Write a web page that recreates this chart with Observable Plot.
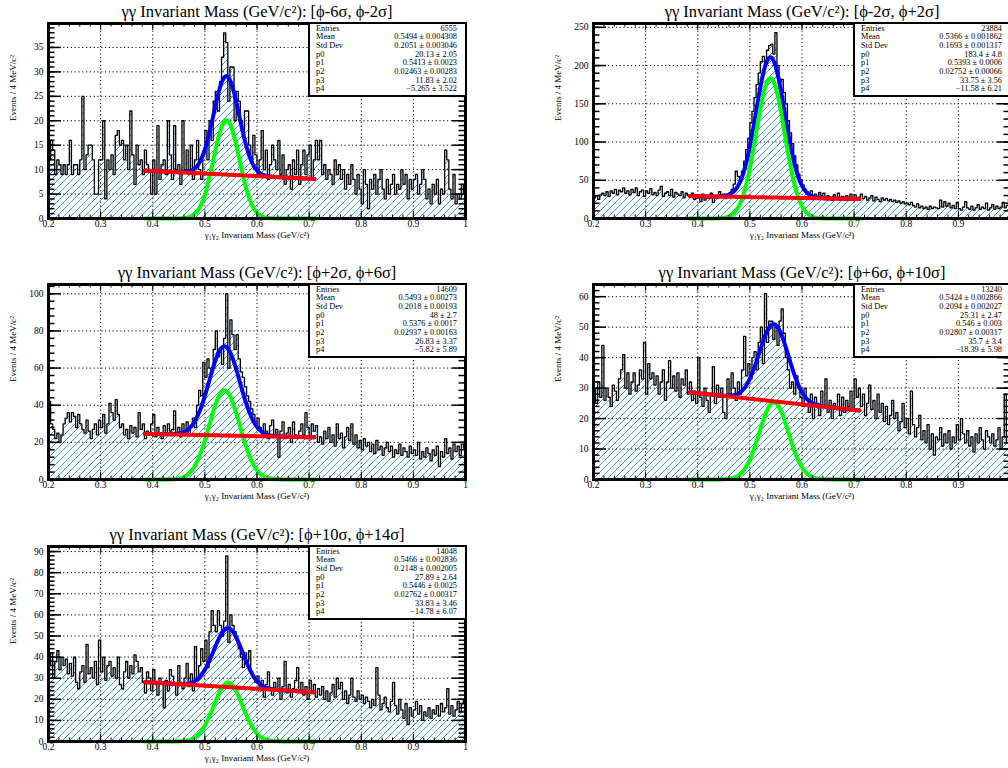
<!DOCTYPE html>
<html><head><meta charset="utf-8">
<script src="https://cdn.jsdelivr.net/npm/d3@7"></script>
<script src="https://cdn.jsdelivr.net/npm/@observablehq/plot@0.6"></script>
<style>
html,body{margin:0;padding:0;background:#fff}
body{width:1008px;height:768px;overflow:hidden;position:relative;font-family:"Liberation Serif",serif}
.panel{position:absolute;width:480px;height:250px}
.stats{position:absolute;left:308px;top:22px;width:159px;height:75px;border:2px solid #000;background:#fff;box-sizing:border-box;overflow:hidden;font-size:8.3px;color:#000}
.stats span{position:absolute;white-space:nowrap;line-height:8px}
</style></head>
<body>
<script>
// ---------------- data ----------------
const binLow = 0.2, binWidth = 0.004, nBins = 200;
const rangeLabels = ["[ϕ-6σ, ϕ-2σ]", "[ϕ-2σ, ϕ+2σ]", "[ϕ+2σ, ϕ+6σ]", "[ϕ+6σ, ϕ+10σ]", "[ϕ+10σ, ϕ+14σ]"];
const counts1 = [12,16,14,9,12, 11,9,11,9,11, 16,9,11,11,9, 12,25,10,13,15, 15,12,5,5,12, 12,20,4,12,10, 13,9,17,18,15, 16,12,15,10,22, 13,7,15,11,12, 9,14,11,10,5, 12,5,19,8,11, 12,9,20,13,8, 19,10,11,7,20, 10,14,9,15,8, 12,16,10,8,13, 18,12,20,16,24, 26,22,28,33,38, 36,24,31,31,20, 26,24,20,17,22, 22,15,12,17,13, 9,12,18,10,14, 8,11,15,12,10, 16,9,13,7,10, 11,6,12,9,14, 7,11,14,9,13, 15,8,12,16,12, 16,9,11,8,10, 9,7,12,9,11, 8,10,6,9,7, 11,8,5,9,6, 3,10,7,2,8, 6,9,5,8,10, 6,4,8,5,7, 9,5,7,6,10, 7,9,4,8,6, 8,9,5,7,10, 8,4,6,3,7, 5,8,3,6,5, 14,12,6,4,9, 3,5,4,7,5];
const counts2 = [27,30,25,31,33, 30,35,29,36,33, 38,31,37,35,40, 33,36,31,38,34, 40,30,35,37,29, 36,33,39,31,34, 30,37,42,29,33, 35,30,38,28,34, 32,30,35,27,33, 30,28,33,25,31, 27,22,32,24,29, 26,33,21,30,27, 35,28,32,26,31, 34,38,45,62,55, 48,62,75,90,105, 125,140,158,175,190, 205,212,204,220,226, 228,215,243,200,178, 182,165,150,128,112, 98,82,70,58,50, 44,38,35,31,36, 29,32,27,34,30, 33,26,30,28,24, 31,27,33,25,29, 26,30,24,32,27, 31,25,28,32,26, 29,24,27,30,23, 28,25,22,27,24, 26,23,25,22,24, 21,23,20,22,19, 20,18,21,17,15, 19,14,16,13,15, 12,16,13,15,14, 13,24,15,22,16, 20,14,17,13,21, 13,11,15,22,14, 12,16,11,14,18, 12,15,13,20,11, 14,18,12,16,13, 15,21,14,17,25];
const counts3 = [42,30,27,22,25, 20,24,30,33,36, 31,36,34,28,35, 30,27,25,32,26, 22,27,30,24,32, 28,35,25,30,41, 36,32,43,35,28, 30,24,27,22,29, 25,28,23,36,27, 30,22,26,24,30, 35,23,28,25,22, 29,24,30,26,27, 37,24,28,23,30, 26,31,24,29,33, 28,40,48,45,63, 55,65,60,58,70, 80,66,70,62,76, 100,60,86,78,70, 78,65,58,55,50, 45,42,38,35,30, 33,28,25,30,26, 22,29,32,24,27, 12,26,31,22,25, 28,20,31,24,22, 26,30,24,36,28, 22,30,26,29,20, 23,19,26,22,28, 20,24,18,30,22, 25,17,23,28,21, 30,19,24,17,21, 16,22,18,20,15, 19,14,21,16,18, 13,17,20,15,18, 12,16,14,19,13, 17,15,12,18,14, 16,13,20,11,15, 12,17,14,10,16, 13,18,7,15,12, 22,14,17,11,19, 15,18,13,19,17];
const counts4 = [30,25,32,27,44, 26,30,27,24,31, 29,26,33,36,41, 30,35,28,32,35, 29,31,36,33,45, 28,38,33,35,31, 34,28,32,36,26, 32,39,30,34,29, 35,27,33,31,36, 28,32,26,29,25, 40,27,24,30,26, 22,28,37,25,31, 27,30,22,20,33, 28,35,30,26,32, 28,36,47,34,38, 33,40,42,36,45, 50,38,61,45,52, 52,46,50,44,52, 56,48,40,36,30, 32,28,34,30,27, 24,30,26,22,28, 20,27,25,21,29, 24,33,22,26,20, 25,23,28,21,27, 22,26,24,29,23, 33,27,30,24,28, 21,25,31,23,26, 20,28,22,25,19, 24,18,21,26,20, 22,16,19,25,17, 20,15,29,18,14, 17,21,13,16,12, 18,10,15,8,14, 13,17,11,15,12, 16,10,14,12,18, 13,20,15,12,16, 11,14,9,15,12, 17,13,10,16,14, 12,15,11,13,17, 10,14,28,12,15];
const counts5 = [36,42,30,38,43, 34,40,36,39,32, 37,31,40,28,25, 33,36,28,46,32, 35,30,38,27,48, 33,40,29,36,38, 31,35,30,40,27, 25,33,38,30,36, 32,41,38,33,35, 28,23,33,30,24, 34,27,22,30,28, 16,29,24,34,31, 27,22,36,28,25, 30,37,26,32,24, 45,29,36,44,38, 48,35,52,62,55, 52,62,55,50,57, 88,47,60,55,52, 48,44,40,35,42, 38,43,33,30,28, 31,24,29,21,27, 33,25,22,28,24, 30,20,26,38,23, 27,21,25,29,35, 24,28,22,26,20, 29,23,27,21,25, 22,26,20,24,19, 23,27,21,30,25, 28,20,24,18,22, 30,21,19,24,20, 22,18,21,19,16, 20,17,35,22,15, 18,21,16,14,19, 28,17,13,20,15, 11,18,8,16,12, 15,19,13,17,10, 14,12,16,11,15, 13,17,12,18,14, 16,25,13,17,12, 15,19,14,18,20];
const allCounts = [counts1, counts2, counts3, counts4, counts5];
// fit parameters: gaussian p0,p1,p2 + linear background p3 + p4*x
const p0 = [20.13, 183.4, 48, 25.31, 27.89];
const p1 = [0.5413, 0.5393, 0.5376, 0.546, 0.5446];
const p2 = [0.02463, 0.02752, 0.02937, 0.02807, 0.02762];
const p3 = [11.83, 33.75, 26.83, 35.7, 33.83];
const p4 = [-5.265, -11.58, -5.82, -18.39, -14.78];
const fitRange = [0.385, 0.71];
// stats box text
const statLabels = ["Entries", "Mean", "Std Dev", "p0", "p1", "p2", "p3", "p4"];
const statValues = [
  ["6555", "0.5494 ± 0.004308", "0.2051 ± 0.003046", "20.13 ± 2.05", "0.5413 ± 0.0023", "0.02463 ± 0.00283", "11.83 ± 2.02", "−5.265 ± 3.522"],
  ["23884", "0.5366 ± 0.001862", "0.1693 ± 0.001317", "183.4 ± 4.8", "0.5393 ± 0.0006", "0.02752 ± 0.00066", "33.75 ± 3.56", "−11.58 ± 6.21"],
  ["14609", "0.5493 ± 0.00273", "0.2018 ± 0.00193", "48 ± 2.7", "0.5376 ± 0.0017", "0.02937 ± 0.00163", "26.83 ± 3.37", "−5.82 ± 5.89"],
  ["13240", "0.5424 ± 0.002866", "0.2094 ± 0.002027", "25.31 ± 2.47", "0.546 ± 0.003", "0.02807 ± 0.00317", "35.7 ± 3.4", "−18.39 ± 5.98"],
  ["14048", "0.5466 ± 0.002836", "0.2148 ± 0.002005", "27.89 ± 2.64", "0.5446 ± 0.0025", "0.02762 ± 0.00317", "33.83 ± 3.46", "−14.78 ± 6.07"]
];
const yMaxs = [39.9, 255, 105, 64, 92.4];
const yMajorStep = [5, 50, 20, 10, 10];
const yMinorStep = [1, 10, 4, 2, 2];
const xMajorTicks = [2,3,4,5,6,7,8,9,10].map(d => d / 10);
const xMinorTicks = d3.range(10, 51).map(d => d / 50);
const xTitle = "γ₁γ₂ Invariant Mass (GeV/c²)";
const yTitle = "Events / 4 MeV/c²";
const titlePrefix = "γγ Invariant Mass (GeV/c²): ";
// layout
const panelPos = [[0,0],[545,0],[0,261],[545,261],[0,523]];
const statRowY = [0.5, 9.2, 17.9, 26.6, 35.3, 44, 52.7, 61.4];

// ---------------- drawing ----------------
const W = 480, H = 250, MT = 23, MB = 32, ML = 48, MR = 15;
const FW = W - ML - MR, FH = H - MT - MB;

allCounts.forEach((counts, k) => {
  const hist = counts.map((c, i) => ({x: binLow + i * binWidth, y: c}));
  hist.push({x: binLow + nBins * binWidth, y: counts[counts.length - 1]});
  const fx = d3.range(0, 326).map(i => fitRange[0] + i * (fitRange[1] - fitRange[0]) / 325);
  const bg = fx.map(x => ({x, y: p3[k] + p4[k] * x}));
  const sig = fx.map(x => ({x, y: p0[k] * Math.exp(-0.5 * ((x - p1[k]) / p2[k]) ** 2)}));
  const tot = fx.map((x, i) => ({x, y: bg[i].y + sig[i].y}));
  const ymax = yMaxs[k];
  const yMaj = d3.range(0, ymax + 1e-9, yMajorStep[k]);
  const yMin = d3.range(0, ymax + 1e-9, yMinorStep[k]);
  const hatchId = "hatch" + k;
  const grid = {stroke: "#000", strokeOpacity: 1, strokeWidth: 1, strokeDasharray: "1.2,2.6"};
  // right-column pads are cut by the canvas edge: their last label is not visible
  const xLabelTicks = panelPos[k][0] > 0 ? xMajorTicks.slice(0, -1) : xMajorTicks;

  const svg = Plot.plot({
    width: W, height: H,
    marginTop: MT, marginBottom: MB, marginLeft: ML, marginRight: MR,
    style: {fontFamily: "Liberation Serif, serif", fontSize: "9.5px", color: "#000", background: "transparent", overflow: "visible"},
    x: {domain: [0.2, 1.0], ticks: xLabelTicks, tickSize: 0, tickPadding: 1.5, tickFormat: d => d === 1 ? "1" : d.toFixed(1), label: null},
    y: {domain: [0, ymax], ticks: yMaj, tickSize: 0, tickPadding: 5, tickFormat: d => String(d), label: null},
    marks: [
      Plot.areaY(hist, {x: "x", y: "y", curve: "step-after", fill: `url(#${hatchId})`}),
      Plot.lineY(hist, {x: "x", y: "y", curve: "step-after", stroke: "#000", strokeWidth: 1.3}),
      Plot.ruleX(xMajorTicks.slice(1, -1), grid),
      Plot.ruleY(yMaj.slice(1), grid),
      Plot.line(tot, {x: "x", y: "y", stroke: "#0000ff", strokeWidth: 4}),
      Plot.line(sig, {x: "x", y: "y", stroke: "#00ff00", strokeWidth: 4}),
      Plot.line(bg, {x: "x", y: "y", stroke: "#ff0000", strokeWidth: 4}),
      // ticks on all four sides, pointing inwards
      Plot.tickX(xMajorTicks, {x: d => d, insetTop: FH - 7, stroke: "#000"}),
      Plot.tickX(xMinorTicks, {x: d => d, insetTop: FH - 3.5, stroke: "#000"}),
      Plot.tickX(xMajorTicks, {x: d => d, insetBottom: FH - 7, stroke: "#000"}),
      Plot.tickX(xMinorTicks, {x: d => d, insetBottom: FH - 3.5, stroke: "#000"}),
      Plot.tickY(yMaj, {y: d => d, insetRight: FW - 13, stroke: "#000", strokeWidth: 1.5}),
      Plot.tickY(yMin, {y: d => d, insetRight: FW - 6.5, stroke: "#000", strokeWidth: 1.5}),
      Plot.tickY(yMaj, {y: d => d, insetLeft: FW - 13, stroke: "#000", strokeWidth: 1.5}),
      Plot.tickY(yMin, {y: d => d, insetLeft: FW - 6.5, stroke: "#000", strokeWidth: 1.5}),
      Plot.frame({stroke: "#000", strokeWidth: 3}),
      Plot.text([titlePrefix + rangeLabels[k]], {frameAnchor: "top", dy: -7, lineAnchor: "bottom", fontSize: 16.5, fill: "#000"}),
      Plot.text([yTitle], {frameAnchor: "left", rotate: -90, dx: -35, fontSize: 9, fill: "#000"}),
      Plot.text([xTitle], {frameAnchor: "bottom", dy: 19, fontSize: 9, fill: "#000"})
    ]
  });

  const defs = d3.select(svg).insert("defs", ":first-child");
  const pat = defs.append("pattern").attr("id", hatchId).attr("patternUnits", "userSpaceOnUse").attr("width", 7).attr("height", 7);
  pat.append("path").attr("d", "M-1,1L1,-1M0,7L7,0M6,8L8,6").attr("stroke", "#3a98ec").attr("stroke-width", 1).attr("fill", "none");

  const div = document.createElement("div");
  div.className = "panel";
  div.style.left = panelPos[k][0] + "px";
  div.style.top = panelPos[k][1] + "px";
  div.appendChild(svg);

  const box = document.createElement("div");
  box.className = "stats";
  statLabels.forEach((lab, r) => {
    const a = document.createElement("span");
    a.textContent = lab; a.style.left = "6px"; a.style.top = statRowY[r] + "px";
    const b = document.createElement("span");
    b.textContent = statValues[k][r]; b.style.right = "8px"; b.style.top = statRowY[r] + "px";
    box.appendChild(a); box.appendChild(b);
  });
  div.appendChild(box);
  document.body.appendChild(div);
});
</script>
</body></html>
